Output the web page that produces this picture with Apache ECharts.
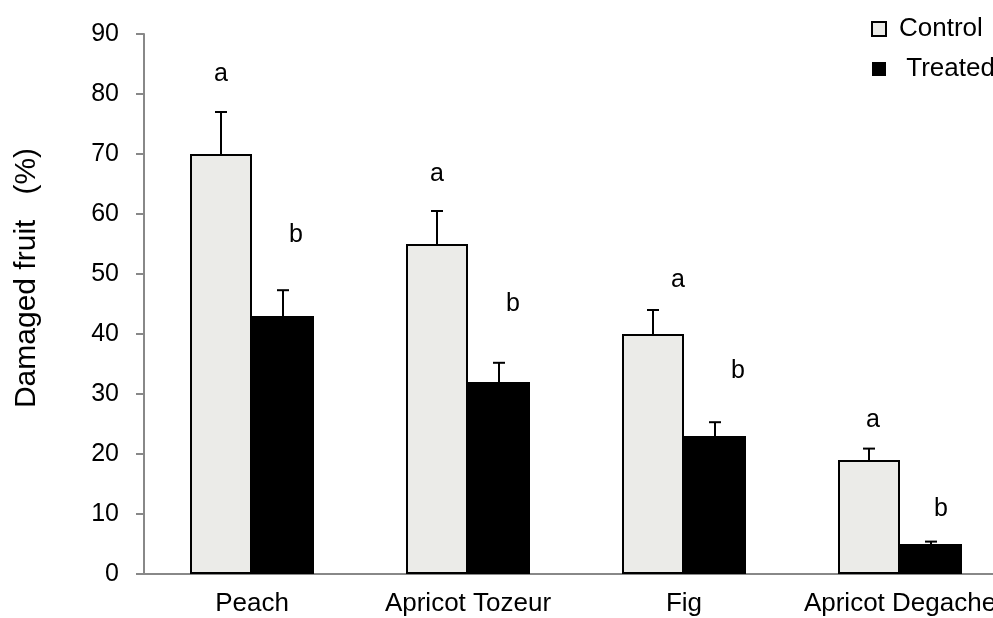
<!DOCTYPE html>
<html>
<head>
<meta charset="utf-8">
<script src="https://cdn.jsdelivr.net/npm/echarts@6/dist/echarts.min.js"></script>
<style>html,body{margin:0;padding:0;background:#fff}#c{width:993px;height:618px}</style>
</head>
<body>
<div id="c"></div>
<script>
var categories = ['Peach', 'Apricot Tozeur', 'Fig', 'Apricot Degache'];
var controlValues = [70, 55, 40, 19];
var treatedValues = [43, 32, 23, 5];
var controlErrors = [7, 5.5, 4, 1.9];
var treatedErrors = [4.3, 3.2, 2.3, 0.4];
var controlLetters = ['a', 'a', 'a', 'a'];
var treatedLetters = ['b', 'b', 'b', 'b'];
var controlLetterY = [83.3, 66.6, 49, 25.6];
var treatedLetterY = [56.4, 45, 33.8, 10.8];
var yTicks = [0, 10, 20, 30, 40, 50, 60, 70, 80, 90];

// style-only offsets (pixels) for letter annotations
var controlLetterDx = [0, 0, 25, 4];
var treatedLetterDx = [13, 14, 23, 10];

var BAR_W = 62;
var chart = echarts.init(document.getElementById('c'));
var font = 'Liberation Sans, Arial, sans-serif';

function errSeries(name, vals, errs, side) {
  return {
    type: 'custom',
    name: name + ' err',
    z: 5,
    silent: true,
    data: vals.map(function (v, i) { return [i, v, v + errs[i]]; }),
    renderItem: function (params, api) {
      var lo = api.coord([api.value(0), api.value(1)]);
      var hi = api.coord([api.value(0), api.value(2)]);
      var x = lo[0] + side * BAR_W / 2;
      return {
        type: 'group',
        children: [
          { type: 'line', shape: { x1: x, y1: lo[1], x2: x, y2: hi[1] }, style: { stroke: '#000', lineWidth: 2 } },
          { type: 'line', shape: { x1: x - 6, y1: hi[1], x2: x + 6, y2: hi[1] }, style: { stroke: '#000', lineWidth: 2 } }
        ]
      };
    }
  };
}

function letterSeries(letters, ys, dxs, side) {
  return {
    type: 'custom',
    silent: true,
    z: 6,
    data: ys.map(function (y, i) { return [i, y]; }),
    renderItem: function (params, api) {
      var i = api.value(0);
      var p = api.coord([i, api.value(1)]);
      return {
        type: 'text',
        x: p[0] + side * BAR_W / 2 + dxs[i],
        y: p[1],
        style: { text: letters[i], fill: '#000', font: '25px ' + font, align: 'center', verticalAlign: 'middle' }
      };
    }
  };
}

chart.setOption({
  animation: false,
  backgroundColor: '#fff',
  grid: { left: 144, top: 34, width: 864, height: 540, outerBoundsMode: 'none', containLabel: false },
  legend: {
    orient: 'vertical',
    left: 866,
    top: 11,
    icon: 'rect',
    itemWidth: 14,
    itemHeight: 14,
    itemGap: 14,
    textStyle: { fontSize: 26, fontFamily: font, color: '#000', padding: [0, 0, 0, 8] },
    formatter: function (n) { return n === 'Treated' ? ' ' + n : n; },
    data: ['Control', 'Treated']
  },
  xAxis: {
    type: 'category',
    data: categories,
    axisLine: { lineStyle: { color: '#888', width: 2 } },
    axisTick: { show: false },
    axisLabel: { color: '#000', fontSize: 26, fontFamily: font, margin: 17, interval: 0 }
  },
  yAxis: {
    type: 'value',
    min: 0, max: 90, interval: 10,
    name: 'Damaged fruit   (%)',
    nameLocation: 'middle',
    nameGap: 102,
    nameTextStyle: { fontSize: 30, fontFamily: font, color: '#000', padding: [0, 0, 0, 52] },
    axisLine: { show: true, lineStyle: { color: '#888', width: 2 } },
    axisTick: { show: true, length: 8, lineStyle: { color: '#888', width: 2 } },
    axisLabel: {
      color: '#000', fontSize: 25, fontFamily: font, margin: 25,
      formatter: function (v) { return yTicks.indexOf(v) >= 0 ? String(v) : ''; }
    },
    splitLine: { show: false }
  },
  series: [
    {
      name: 'Control', type: 'bar', data: controlValues, barWidth: BAR_W, barGap: 0,
      itemStyle: { color: '#ebebe8', borderColor: '#000', borderWidth: 2 }
    },
    {
      name: 'Treated', type: 'bar', data: treatedValues, barWidth: BAR_W, barGap: 0,
      itemStyle: { color: '#000', borderColor: '#000', borderWidth: 0 }
    },
    errSeries('Control', controlValues, controlErrors, -1),
    errSeries('Treated', treatedValues, treatedErrors, 1),
    letterSeries(controlLetters, controlLetterY, controlLetterDx, -1),
    letterSeries(treatedLetters, treatedLetterY, treatedLetterDx, 1)
  ]
});
</script>
</body>
</html>
